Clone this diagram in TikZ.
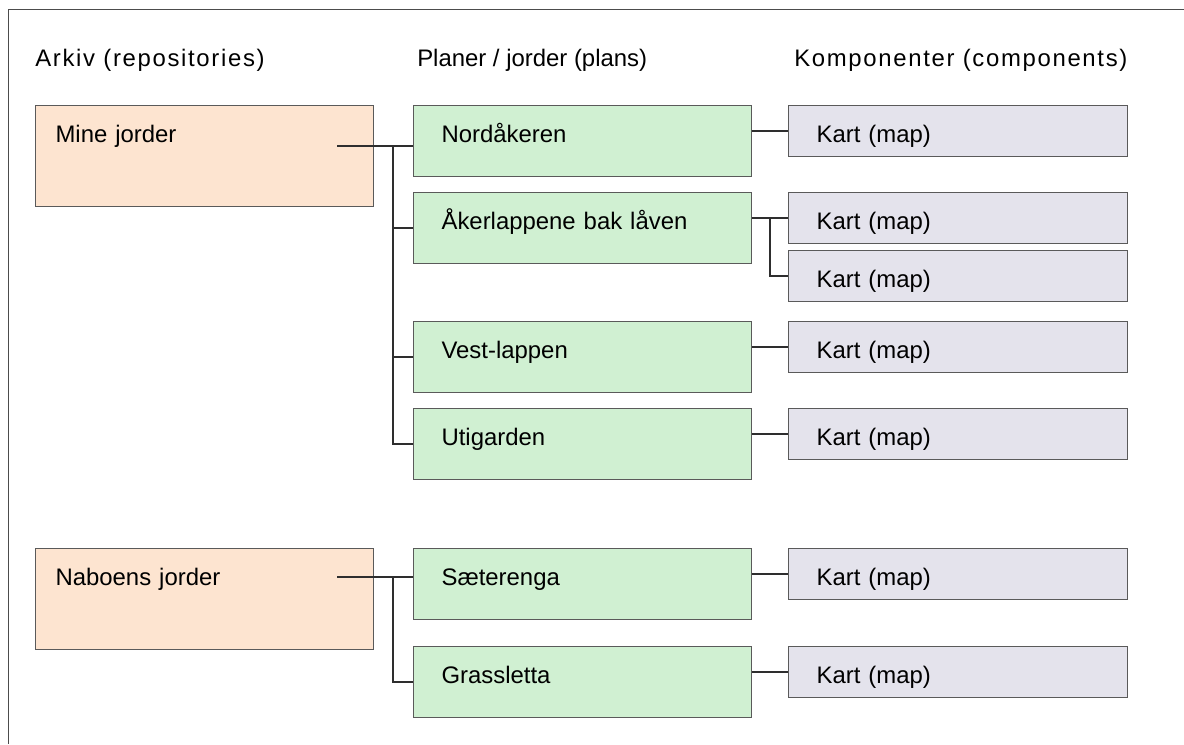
\documentclass[tikz,border=0pt]{standalone}
\usepackage{fontspec}
\setmainfont{Liberation Sans}
\newfontfamily\widefont{Liberation Sans}[LetterSpace=7]
\usetikzlibrary{calc}
\definecolor{repofill}{HTML}{FDE4D0}
\definecolor{planfill}{HTML}{D0F0D2}
\definecolor{compfill}{HTML}{E4E3EC}
\definecolor{boxline}{HTML}{5A5A5A}
\definecolor{linecol}{HTML}{2E2E2E}
\tikzset{
  boks/.style={
    rectangle, draw=boxline, line width=0.8pt,
    anchor=north west, align=left,
    inner xsep=0.7cm, inner ysep=0pt,
    text width=7.05cm, text height=0.925cm
  },
  repo/.style={boks, fill=repofill, text depth=1.6cm, inner xsep=0.5cm, text width=7.45cm},
  plan/.style={boks, fill=planfill, text depth=0.85cm},
  comp/.style={boks, fill=compfill, text depth=0.35cm, text width=7.075cm},
  header/.style={anchor=base west, inner sep=0pt},
  wideheader/.style={header, font=\fontsize{17}{20}\widefont},
  link/.style={draw=linecol, line width=1.5pt}
}
\begin{document}
\begin{tikzpicture}[x=0.025cm, y=-0.025cm, font=\fontsize{17}{20}\selectfont]
        \useasboundingbox (0,0) rectangle (1184,744);
        \draw[draw=black!70, line width=0.6pt] (1184,9) -- (8,9) -- (8,744);

        \node[wideheader] (harkiv) at (35,66) {Arkiv (repositories)};
        \node[header]     (hplan)  at (417,66) {Planer / jorder (plans)};
        \node[wideheader] (hkomp)  at (794,66) {Komponenter (components)};

        \node[repo] (mine) at (35,105) {Mine jorder};
        \node[repo] (nabo) at (35,548) {Naboens jorder};

        \node[plan] (nord)  at (413,105) {Nordåkeren};
        \node[plan] (aker)  at (413,192) {Åkerlappene bak låven};
        \node[plan] (vest)  at (413,321) {Vest-lappen};
        \node[plan] (uti)   at (413,408) {Utigarden};
        \node[plan] (saet)  at (413,548) {Sæterenga};
        \node[plan] (grass) at (413,646) {Grassletta};

        \node[comp] (k1) at (788,105) {Kart (map)};
        \node[comp] (k2) at (788,192) {Kart (map)};
        \node[comp] (k3) at (788,250) {Kart (map)};
        \node[comp] (k4) at (788,321) {Kart (map)};
        \node[comp] (k5) at (788,408) {Kart (map)};
        \node[comp] (k6) at (788,548) {Kart (map)};
        \node[comp] (k7) at (788,646) {Kart (map)};

        \coordinate (mineut) at (337,146);
        \coordinate (minetr) at (393,146);
        \coordinate (nabout) at (337,577);
        \coordinate (nabotr) at (393,577);

        \draw[link] (mineut) -- (mineut -| nord.west);
        \draw[link] (minetr) |- (aker.west);
        \draw[link] (minetr) |- (vest.west);
        \draw[link] (minetr) |- (uti.west);

        \draw[link] (nabout) -- (nabout -| saet.west);
        \draw[link] (nabotr) |- (grass.west);

        \foreach \p/\k in {nord/k1, aker/k2, vest/k4, uti/k5, saet/k6, grass/k7}
            \draw[link] (\k.west -| \p.east) -- (\k.west);
        \draw[link] ($(k2.west)+(-18,0)$) |- (k3.west);
    \end{tikzpicture}
\end{document}
